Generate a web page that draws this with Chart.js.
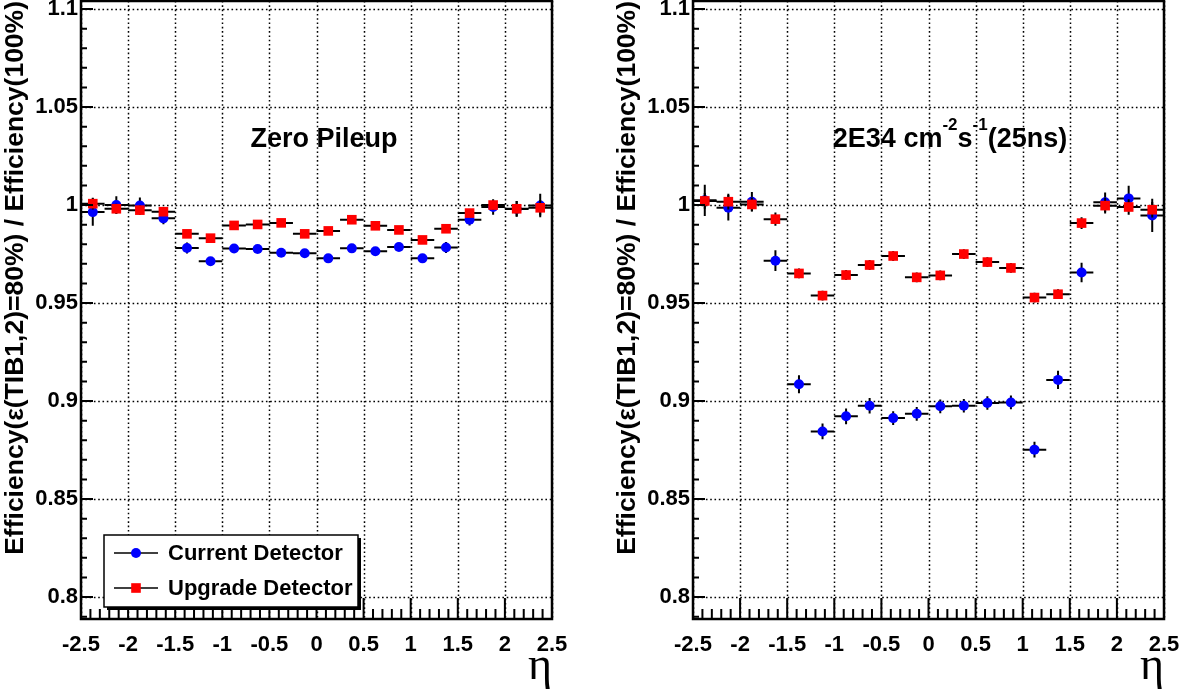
<!DOCTYPE html>
<html>
<head>
<meta charset="utf-8">
<script src="https://cdn.jsdelivr.net/npm/chart.js@4/dist/chart.umd.min.js"></script>
<style>
html,body{margin:0;padding:0;background:#fff;overflow:hidden;}
#wrap{position:relative;width:1194px;height:697px;background:#fff;}
#c1{position:absolute;left:0;top:0;}
#c2{position:absolute;left:612px;top:0;}
</style>
</head>
<body>
<div id="wrap">
<canvas id="c1" width="582" height="697"></canvas>
<canvas id="c2" width="582" height="697"></canvas>
</div>
<script>
// ---------------- data ----------------
const etaCenters = [-2.375,-2.125,-1.875,-1.625,-1.375,-1.125,-0.875,-0.625,-0.375,-0.125,
                    0.125,0.375,0.625,0.875,1.125,1.375,1.625,1.875,2.125,2.375];
const etaBinHalfWidth = 0.125;

const xTickValues = [-2.5,-2,-1.5,-1,-0.5,0,0.5,1,1.5,2,2.5];
const xTickLabels = ['-2.5','-2','-1.5','-1','-0.5','0','0.5','1','1.5','2','2.5'];
const yTickValues = [0.8,0.85,0.9,0.95,1,1.05,1.1];
const yTickLabels = ['0.8','0.85','0.9','0.95','1','1.05','1.1'];

const seriesNames = ['Current Detector','Upgrade Detector'];

// Zero pileup
const zeroPuCurrent    = [0.9964,1.0000,0.9998,0.9932,0.9781,0.9713,0.9778,0.9776,0.9757,0.9754,
                          0.9728,0.9779,0.9764,0.9786,0.9728,0.9783,0.9925,0.9990,0.9980,0.9998];
const zeroPuCurrentErr = [0.0070,0.0045,0.0040,0.0030,0.0028,0.0020,0.0020,0.0020,0.0020,0.0020,
                          0.0020,0.0020,0.0020,0.0020,0.0020,0.0028,0.0030,0.0040,0.0040,0.0060];
const zeroPuUpgrade    = [1.0007,0.9981,0.9974,0.9966,0.9853,0.9831,0.9896,0.9901,0.9909,0.9853,
                          0.9868,0.9925,0.9894,0.9873,0.9822,0.9879,0.9959,1.0000,0.9981,0.9986];
const zeroPuUpgradeErr = [0.0030,0.0025,0.0025,0.0020,0.0015,0.0015,0.0012,0.0012,0.0012,0.0012,
                          0.0012,0.0012,0.0012,0.0012,0.0015,0.0015,0.0020,0.0025,0.0040,0.0040];

// 2E34 cm-2 s-1 (25ns)
const highPuCurrent    = [1.0024,0.9986,1.0017,0.9716,0.9086,0.8845,0.8922,0.8976,0.8913,0.8935,
                          0.8973,0.8976,0.8990,0.8993,0.8752,0.9108,0.9656,1.0014,1.0034,0.9947];
const highPuCurrentErr = [0.0080,0.0065,0.0050,0.0053,0.0046,0.0040,0.0040,0.0040,0.0035,0.0035,
                          0.0035,0.0035,0.0035,0.0035,0.0040,0.0046,0.0050,0.0050,0.0065,0.0085];
const highPuUpgrade    = [1.0021,1.0017,1.0003,0.9928,0.9651,0.9538,0.9643,0.9694,0.9740,0.9631,
                          0.9641,0.9750,0.9709,0.9679,0.9528,0.9545,0.9908,0.9997,0.9990,0.9976];
const highPuUpgradeErr = [0.0040,0.0040,0.0035,0.0034,0.0025,0.0025,0.0025,0.0025,0.0025,0.0025,
                          0.0025,0.0025,0.0025,0.0025,0.0025,0.0025,0.0030,0.0040,0.0040,0.0040];

// ---------------- styling / helpers ----------------
const FONT = "'Liberation Sans', Arial, Helvetica, sans-serif";
Chart.defaults.font.family = FONT;
Chart.defaults.color = '#000';

function makePoints(ys, errs) {
  return etaCenters.map((x, i) => ({x: x, y: ys[i], xErr: etaBinHalfWidth, yErr: errs[i]}));
}

const rootStyle = {
  id: 'rootStyle',
  beforeDatasetsDraw(chart) {
    const {ctx, chartArea: a, scales: {x, y}} = chart;
    ctx.save();
    ctx.strokeStyle = '#000';
    ctx.lineWidth = 1.5;
    ctx.setLineDash([1.6, 2.7]);
    ctx.beginPath();
    xTickValues.forEach(v => {
      const px = Math.round(x.getPixelForValue(v)) + 0.5;
      ctx.moveTo(px, a.top); ctx.lineTo(px, a.bottom);
    });
    yTickValues.forEach(v => {
      const py = Math.round(y.getPixelForValue(v)) + 0.5;
      ctx.moveTo(a.left, py); ctx.lineTo(a.right, py);
    });
    ctx.stroke();
    ctx.restore();
  },
  beforeDatasetDraw(chart, args) {
    const {ctx, scales: {x, y}} = chart;
    const ds = chart.data.datasets[args.index];
    ctx.save();
    ctx.strokeStyle = '#000';
    ctx.lineWidth = 2;
    ctx.beginPath();
    ds.data.forEach(p => {
      const px = x.getPixelForValue(p.x), py = y.getPixelForValue(p.y);
      ctx.moveTo(x.getPixelForValue(p.x - p.xErr), py);
      ctx.lineTo(x.getPixelForValue(p.x + p.xErr), py);
      ctx.moveTo(px, y.getPixelForValue(p.y - p.yErr));
      ctx.lineTo(px, y.getPixelForValue(p.y + p.yErr));
    });
    ctx.stroke();
    ctx.restore();
  },
  afterDatasetsDraw(chart, args, opts) {
    const {ctx, chartArea: a, scales: {x, y}} = chart;
    ctx.save();
    // inward ticks
    ctx.strokeStyle = '#000';
    ctx.lineWidth = 2;
    ctx.setLineDash([]);
    ctx.beginPath();
    for (let k = Math.ceil(y.min * 100 - 1e-6); k <= Math.floor(y.max * 100 + 1e-6); k++) {
      const v = k / 100;
      const major = yTickValues.some(t => Math.abs(t - v) < 1e-6);
      const py = y.getPixelForValue(v);
      ctx.moveTo(a.left, py); ctx.lineTo(a.left + (major ? 12 : 6), py);
    }
    for (let k = Math.ceil(x.min * 10 - 1e-6); k <= Math.floor(x.max * 10 + 1e-6); k++) {
      const v = k / 10;
      const major = xTickValues.some(t => Math.abs(t - v) < 1e-6);
      const px = x.getPixelForValue(v);
      ctx.moveTo(px, a.bottom); ctx.lineTo(px, a.bottom - (major ? 21 : 10));
    }
    ctx.stroke();
    // frame
    ctx.lineWidth = 2.5;
    ctx.strokeRect(a.left, a.top, a.right - a.left, a.bottom - a.top);

    // annotation text
    if (opts.label) {
      const mainFont = 'bold 27px ' + FONT;
      const supFont = 'bold 17px ' + FONT;
      let total = 0;
      opts.label.forEach(s => { ctx.font = s.sup ? supFont : mainFont; total += ctx.measureText(s.t).width; });
      let cx = opts.labelX - total / 2;
      ctx.fillStyle = '#000';
      ctx.textBaseline = 'alphabetic';
      ctx.textAlign = 'left';
      opts.label.forEach(s => {
        ctx.font = s.sup ? supFont : mainFont;
        ctx.fillText(s.t, cx, opts.labelBaseline - (s.sup ? 17 : 0));
        cx += ctx.measureText(s.t).width;
      });
    }

    // legend
    if (opts.legend) {
      const L = opts.legend;
      ctx.fillStyle = '#000';
      ctx.fillRect(L.x + 3, L.y + 3, L.w, L.h);
      ctx.fillStyle = '#fff';
      ctx.fillRect(L.x, L.y, L.w, L.h);
      ctx.lineWidth = 1.5;
      ctx.strokeStyle = '#000';
      ctx.strokeRect(L.x, L.y, L.w, L.h);
      chart.data.datasets.forEach((ds, i) => {
        const ly = L.y + L.rowY[i];
        ctx.lineWidth = 1.5;
        ctx.beginPath();
        ctx.moveTo(L.x + 10, ly); ctx.lineTo(L.x + 54, ly);
        ctx.stroke();
        ctx.fillStyle = ds.backgroundColor;
        const mx = L.x + 32;
        if (ds.pointStyle === 'rect') {
          const s = ds.pointRadius * Math.SQRT1_2;
          ctx.fillRect(mx - s, ly - s, 2 * s, 2 * s);
        } else {
          ctx.beginPath();
          ctx.arc(mx, ly, ds.pointRadius, 0, Math.PI * 2);
          ctx.fill();
        }
        ctx.fillStyle = '#000';
        ctx.font = 'bold 22px ' + FONT;
        ctx.textAlign = 'left';
        ctx.textBaseline = 'middle';
        ctx.fillText(ds.label, L.x + 64, ly + 1);
      });
    }
    ctx.restore();
  }
};

function makeChart(canvasId, cur, curErr, upg, upgErr, pluginOpts) {
  return new Chart(document.getElementById(canvasId), {
    type: 'scatter',
    data: {
      datasets: [
        {label: seriesNames[0], data: makePoints(cur, curErr), order: 2,
         pointStyle: 'circle', pointRadius: 5, pointHoverRadius: 5,
         backgroundColor: '#0000ff', borderWidth: 0, showLine: false},
        {label: seriesNames[1], data: makePoints(upg, upgErr), order: 1,
         pointStyle: 'rect', pointRadius: 6.8, pointHoverRadius: 6.8,
         backgroundColor: '#ff0000', borderWidth: 0, showLine: false}
      ]
    },
    options: {
      responsive: false,
      animation: false,
      events: [],
      layout: {autoPadding: false, padding: {top: 1, right: 30, bottom: 0, left: 0}},
      plugins: {legend: {display: false}, tooltip: {enabled: false}, rootStyle: pluginOpts},
      scales: {
        x: {
          type: 'linear', min: -2.5, max: 2.5,
          afterBuildTicks: s => { s.ticks = xTickValues.map(v => ({value: v})); },
          afterFit: s => { s.height = 78; s.paddingLeft = 0; s.paddingRight = 0; },
          grid: {display: false, drawTicks: false},
          border: {display: false},
          ticks: {
            autoSkip: false, maxRotation: 0, minRotation: 0, padding: 13, color: '#000',
            font: {size: 22, weight: 'bold'},
            callback: (v, i) => xTickLabels[i]
          },
          title: {display: true, text: 'η', align: 'end', color: '#000',
                  font: {family: "'Liberation Serif', 'Times New Roman', serif", size: 46, weight: 'normal'},
                  padding: {top: 0, bottom: 2}}
        },
        y: {
          type: 'linear', min: 0.7888, max: 1.1041,
          afterBuildTicks: s => { s.ticks = yTickValues.map(v => ({value: v})); },
          afterFit: s => { s.width = 81; s.paddingTop = 0; s.paddingBottom = 0; },
          grid: {display: false, drawTicks: false},
          border: {display: false},
          ticks: {
            padding: 3, color: '#000',
            font: {size: 22, weight: 'bold'},
            callback: (v, i) => yTickLabels[i]
          },
          title: {display: true, text: 'Efficiency(ε(TIB1,2)=80%) / Efficiency(100%)', align: 'end', color: '#000',
                  font: {size: 26.5, weight: 'bold'}, padding: 0}
        }
      }
    },
    plugins: [rootStyle]
  });
}

makeChart('c1', zeroPuCurrent, zeroPuCurrentErr, zeroPuUpgrade, zeroPuUpgradeErr, {
  label: [{t: 'Zero Pileup', sup: false}],
  labelX: 324, labelBaseline: 147,
  legend: {x: 104, y: 535, w: 254, h: 72, rowY: [18, 53]}
});
makeChart('c2', highPuCurrent, highPuCurrentErr, highPuUpgrade, highPuUpgradeErr, {
  label: [{t: '2E34 cm', sup: false}, {t: '-2', sup: true}, {t: 's', sup: false},
          {t: '-1', sup: true}, {t: '(25ns)', sup: false}],
  labelX: 338, labelBaseline: 147,
  legend: null
});
</script>
</body>
</html>
